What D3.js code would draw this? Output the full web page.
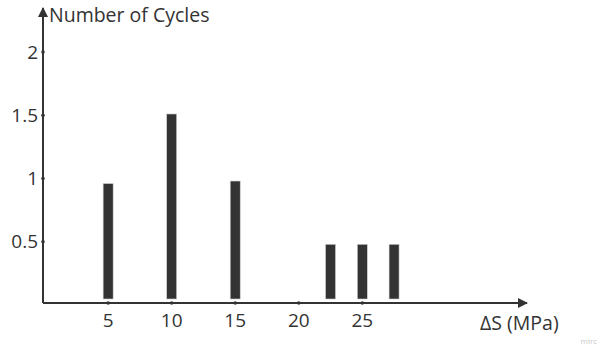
<!DOCTYPE html>
<html>
<head>
<meta charset="utf-8">
<script src="https://cdn.jsdelivr.net/npm/d3@7"></script>
<style>
  body { margin: 0; background: #fff; }
  svg { display: block; font-family: "Open Sans", sans-serif; }
</style>
</head>
<body>
<div id="chart"></div>
<script>
// bar positions (ΔS) and heights (cycles)
const stressRanges = [5, 10, 15, 22.5, 25, 27.5];
const cycles = [0.96, 1.51, 0.98, 0.48, 0.48, 0.48];
const xTicks = [5, 10, 15, 20, 25];
const yTicks = [0.5, 1, 1.5, 2];

const W = 601, H = 353;
const ink = "#333333";

const svg = d3.select("#chart").append("svg")
  .attr("width", W).attr("height", H);

const x = d3.scaleLinear().domain([0, 25]).range([44.6, 362.3]);
const y = d3.scaleLinear().domain([0, 2]).range([305, 52]);

const axisY = 303, axisX = 43;

// arrow head
svg.append("defs").append("marker")
  .attr("id", "arrow")
  .attr("viewBox", "0 0 10 10")
  .attr("refX", 9).attr("refY", 5)
  .attr("markerWidth", 5).attr("markerHeight", 5)
  .attr("orient", "auto")
  .append("path").attr("d", "M0,0 L10,5 L0,10 z").attr("fill", ink);

// bars
svg.append("g").selectAll("rect")
  .data(stressRanges)
  .enter().append("rect")
  .attr("x", (d) => x(d) - 5)
  .attr("width", 10)
  .attr("y", (d, i) => y(cycles[i]))
  .attr("height", (d, i) => (axisY - 4) - y(cycles[i]))
  .attr("fill", ink)
  .attr("stroke", "#d0d0d0")
  .attr("stroke-width", 0.6);

// axes
svg.append("line")
  .attr("x1", axisX).attr("y1", axisY)
  .attr("x2", 527).attr("y2", axisY)
  .attr("stroke", ink).attr("stroke-width", 2)
  .attr("marker-end", "url(#arrow)");
svg.append("line")
  .attr("x1", axisX).attr("y1", axisY)
  .attr("x2", axisX).attr("y2", 8)
  .attr("stroke", ink).attr("stroke-width", 2)
  .attr("marker-end", "url(#arrow)");

// x ticks
const xt = svg.append("g").selectAll("g").data(xTicks).enter().append("g")
  .attr("transform", (d) => `translate(${x(d)},${axisY})`);
xt.append("circle").attr("r", 1.8).attr("fill", ink);
xt.append("text").attr("y", 24).attr("text-anchor", "middle")
  .attr("font-size", 19).attr("fill", ink).text((d) => d);

// y ticks
const yt = svg.append("g").selectAll("g").data(yTicks).enter().append("g")
  .attr("transform", (d) => `translate(${axisX},${y(d)})`);
yt.append("circle").attr("r", 1.8).attr("fill", ink);
yt.append("text").attr("x", -5).attr("dy", "0.35em").attr("text-anchor", "end")
  .attr("font-size", 19).attr("fill", ink).text((d) => d);

// axis labels
svg.append("text").attr("x", 49).attr("y", 22)
  .attr("font-size", 19.5).attr("fill", ink).text("Number of Cycles");
svg.append("text").attr("x", 480).attr("y", 330)
  .attr("font-size", 19.5).attr("fill", ink).text("ΔS (MPa)");

// watermark
svg.append("text").attr("x", 597).attr("y", 344).attr("text-anchor", "end")
  .attr("font-size", 8).attr("fill", "#c8c8c8").text("mirc");
</script>
</body>
</html>
